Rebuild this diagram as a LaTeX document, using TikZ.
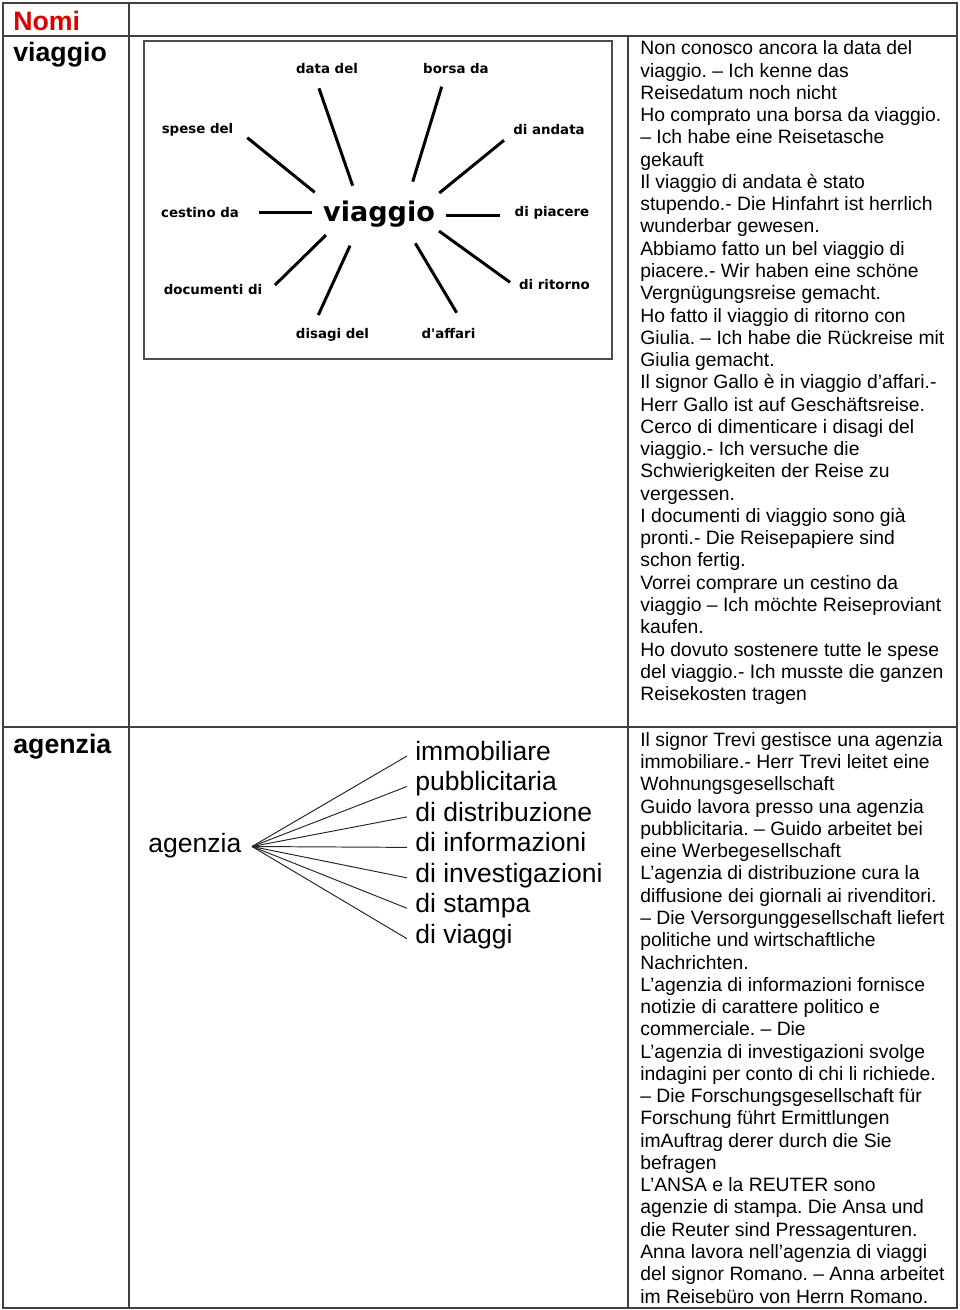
\documentclass[tikz,border=0pt]{standalone}
\usepackage{fontspec}
\setmainfont{Liberation Sans}
\newfontfamily\boxfont{DejaVu Sans}
\usetikzlibrary{positioning}
\frenchspacing

\definecolor{nomired}{RGB}{221,0,0}
\definecolor{rulegray}{RGB}{64,64,64}

\tikzset{
	rule/.style={draw=rulegray, line width=0.85pt},
	head/.style={anchor=base west, inner sep=0pt, font=\fontsize{15.2}{18}\selectfont\bfseries},
	para/.style={anchor=north west, inner sep=0pt, align=left, font=\fontsize{11}{12.67}\selectfont},
	frame/.style={draw=black!70, line width=0.85pt},
	hubword/.style={inner sep=0pt, font=\boxfont\fontsize{15.4}{18}\selectfont\bfseries},
	word/.style={inner sep=0pt, font=\boxfont\fontsize{7.6}{9}\selectfont\bfseries},
	spoke/.style={line width=1.7pt},
	branch/.style={anchor=base west, inner xsep=4.5pt, inner ysep=0pt, text height=0.72em, text depth=0.21em, font=\fontsize{15.1}{18}\selectfont},
	twig/.style={line width=0.55pt, draw=black!85},
}

\begin{document}
\begin{tikzpicture}[x=0.2mm, y=-0.2mm]
	\useasboundingbox (0,0) rectangle (960,1310);

	% table
	\draw[rule] (3,3) rectangle (957,1308);
	\draw[rule] (3,36) -- (957,36);
	\draw[rule] (3,727) -- (957,727);
	\draw[rule] (129,3) -- (129,1308);
	\draw[rule] (628,36) -- (628,1308);

	\node[head, text=nomired] (nomi) at (13,30) {Nomi};
	\node[head] (viaggio) at (13,61) {viaggio};
	\node[head] (agenzia) at (13,753) {agenzia};

	% viaggio diagram
	\draw[frame] (144,41) rectangle (612,359);
	\node[hubword] (hub) at (379,214) {viaggio};

	\node[word] (data) at (327,68.5) {data del};
	\node[word] (borsa) at (456,68.5) {borsa da};
	\node[word] (spese) at (197.5,130) {spese del};
	\node[word] (andata) at (549,129.5) {di andata};
	\node[word] (cestino) at (200,212.5) {cestino da};
	\node[word] (piacere) at (552,213) {di piacere};
	\node[word] (documenti) at (213,290) {documenti di};
	\node[word] (ritorno) at (554.5,284.5) {di ritorno};
	\node[word] (disagi) at (332.5,334.5) {disagi del};
	\node[word] (affari) at (448.5,333.5) {d\textquotesingle affari};

	\foreach \i/\ax/\ay/\bx/\by in {1/247.3/137.7/314.7/192.3, 2/319/88.3/352.7/185.7,
		3/441.7/86.7/412.7/181.7, 4/504/140.3/439.3/193, 5/259.3/212.7/311.7/212.7,
		6/445.7/215/500/215, 7/326/235/275/285, 8/350/245.7/318.3/315,
		9/415.3/243.3/456.7/312.7, 10/439/231/510/282.3}{
		\coordinate (out\i) at (\ax,\ay);
		\coordinate (in\i) at (\bx,\by);
		\draw[spoke] (out\i) -- (in\i);
	}

	% agenzia diagram
	\node[branch, inner xsep=0pt] (agz) at (148,852.5) {agenzia};
	\coordinate (fan) at (252,846.5);
	\foreach \w [count=\k] in {immobiliare, pubblicitaria, di distribuzione, di informazioni,
		di investigazioni, di stampa, di viaggi}{
		\node[branch] (br\k) at (407,730.05+30.45*\k) {\w};
		\draw[twig] (fan) -- (br\k.west);
	}

	% examples
	\node[para] (ex1) at (640,40.5) {Non conosco ancora la data del\\
		viaggio. – Ich kenne das\\
		Reisedatum noch nicht\\
		Ho comprato una borsa da viaggio.\\
		– Ich habe eine Reisetasche\\
		gekauft\\
		Il viaggio di andata è stato\\
		stupendo.- Die Hinfahrt ist herrlich\\
		wunderbar gewesen.\\
		Abbiamo fatto un bel viaggio di\\
		piacere.- Wir haben eine schöne\\
		Vergnügungsreise gemacht.\\
		Ho fatto il viaggio di ritorno con\\
		Giulia. – Ich habe die Rückreise mit\\
		Giulia gemacht.\\
		Il signor Gallo è in viaggio d’affari.-\\
		Herr Gallo ist auf Geschäftsreise.\\
		Cerco di dimenticare i disagi del\\
		viaggio.- Ich versuche die\\
		Schwierigkeiten der Reise zu\\
		vergessen.\\
		I documenti di viaggio sono già\\
		pronti.- Die Reisepapiere sind\\
		schon fertig.\\
		Vorrei comprare un cestino da\\
		viaggio – Ich möchte Reiseproviant\\
		kaufen.\\
		Ho dovuto sostenere tutte le spese\\
		del viaggio.- Ich musste die ganzen\\
		Reisekosten tragen};

	\node[para] (ex2) at (640,732) {Il signor Trevi gestisce una agenzia\\
		immobiliare.- Herr Trevi leitet eine\\
		Wohnungsgesellschaft\\
		Guido lavora presso una agenzia\\
		pubblicitaria. – Guido arbeitet bei\\
		eine Werbegesellschaft\\
		L’agenzia di distribuzione cura la\\
		diffusione dei giornali ai rivenditori.\\
		– Die Versorgunggesellschaft liefert\\
		politiche und wirtschaftliche\\
		Nachrichten.\\
		L’agenzia di informazioni fornisce\\
		notizie di carattere politico e\\
		commerciale. – Die\\
		L’agenzia di investigazioni svolge\\
		indagini per conto di chi li richiede.\\
		– Die Forschungsgesellschaft für\\
		Forschung führt Ermittlungen\\
		imAuftrag derer durch die Sie\\
		befragen\\
		L’ANSA e la REUTER sono\\
		agenzie di stampa. Die Ansa und\\
		die Reuter sind Pressagenturen.\\
		Anna lavora nell’agenzia di viaggi\\
		del signor Romano. – Anna arbeitet\\
		im Reisebüro von Herrn Romano.};

\end{tikzpicture}
\end{document}
